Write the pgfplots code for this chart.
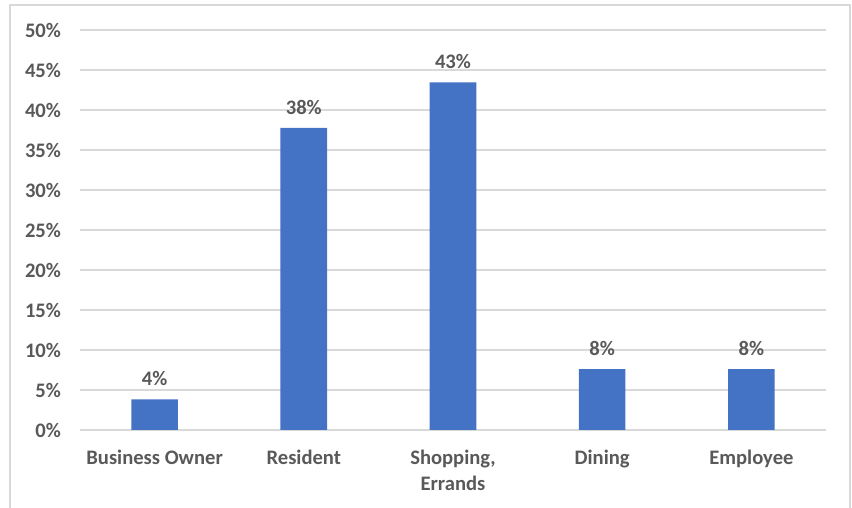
\documentclass[border=0pt]{standalone}
\usepackage{pgfplots}
\pgfplotsset{compat=1.18}
\usepackage{fontspec}
\setmainfont{Carlito}
\definecolor{barblue}{HTML}{4472C4}
\definecolor{gridgray}{HTML}{D9D9D9}
\definecolor{txtgray}{HTML}{595959}
\begin{document}
\begin{tikzpicture}[x=0.5pt,y=0.5pt]
% bounding box: image px (0..852, 0..508); axis lower-left at px (80,430)
\useasboundingbox (-80,430) rectangle (772,-78);
\draw[gridgray,line width=1pt] (-70,-90) -- (-70,425) -- (770,425) -- (770,-90);
\begin{axis}[
  at={(0pt,0pt)}, anchor=south west,
  scale only axis,
  width=373pt, height=200pt,
  xmin=-0.5, xmax=4.5,
  ymin=0, ymax=50,
  ytick={0,5,...,50},
  xtick={0,1,2,3,4},
  xticklabels={Business Owner,Resident,{Shopping,\\Errands},Dining,Employee},
  xticklabel style={align=center, font=\fontsize{10.3}{13}\selectfont\bfseries, text=txtgray, anchor=north, yshift=-6.5pt},
  yticklabel style={font=\fontsize{10.3}{13}\selectfont\bfseries, text=txtgray, xshift=-6pt},
  yticklabel={\pgfmathprintnumber{\tick}\%},
  /pgf/number format/assume math mode=true,
  ymajorgrids,
  grid style={gridgray, line width=0.75pt},
  axis line style={draw=none},
  major tick length=0pt,
  ybar,
  bar width=23.3pt,
  nodes near coords={\pgfmathprintnumber[fixed,precision=0]{\pgfplotspointmeta}\%},
  nodes near coords style={font=\fontsize{10.3}{13}\selectfont\bfseries, text=txtgray, inner sep=0pt, anchor=south, yshift=6.5pt},
  clip=false,
]
\addplot[fill=barblue, draw=none] coordinates {(0,3.84) (1,37.75) (2,43.45) (3,7.6) (4,7.6)};
\end{axis}
\end{tikzpicture}
\end{document}
